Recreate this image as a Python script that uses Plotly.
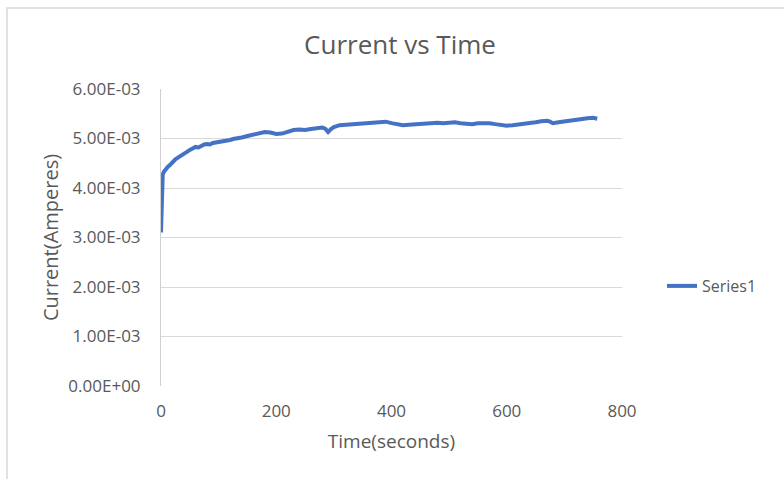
import plotly.graph_objects as go

time_s = [0, 1, 2, 3, 5, 8, 12, 16, 20, 25, 30, 35, 40, 45, 50, 55, 60, 65, 70, 75, 80, 85, 90,
          95, 100, 105, 110, 115, 120, 125, 130, 135, 140, 150, 160, 170, 180, 190, 200, 210,
          220, 230, 240, 250, 260, 270, 280, 285, 290, 295, 300, 310, 320, 330, 340, 350, 360,
          370, 380, 390, 400, 410, 420, 430, 440, 450, 460, 470, 480, 490, 500, 510, 520,
          530, 540, 550, 560, 570, 580, 590, 600, 610, 620, 630, 640, 650, 660, 670,
          675, 680, 690, 700, 710, 720, 730, 740, 750, 757]
current_mA = [3.10, 4.00, 4.20, 4.27, 4.33, 4.38, 4.43, 4.47, 4.53, 4.58, 4.62, 4.65, 4.70,
              4.73, 4.77, 4.81, 4.83, 4.82, 4.86, 4.88, 4.89, 4.88, 4.91, 4.92, 4.92, 4.94,
              4.95, 4.94, 4.97, 4.99, 5.00, 4.99, 5.02, 5.05, 5.07, 5.10, 5.13, 5.12, 5.09,
              5.10, 5.14, 5.17, 5.18, 5.17, 5.19, 5.21, 5.22, 5.20, 5.13, 5.19, 5.23, 5.27,
              5.28, 5.29, 5.30, 5.29, 5.31, 5.32, 5.33, 5.34, 5.31, 5.28, 5.27, 5.28, 5.29,
              5.30, 5.31, 5.32, 5.32, 5.31, 5.32, 5.33, 5.31, 5.29, 5.29, 5.31, 5.32, 5.31,
              5.29, 5.27, 5.26, 5.27, 5.29, 5.31, 5.32, 5.33, 5.35, 5.36, 5.34, 5.31, 5.33,
              5.35, 5.36, 5.37, 5.39, 5.41, 5.42, 5.40]
current_A = [v * 1e-3 for v in current_mA]

y_tick_vals = [0, 0.001, 0.002, 0.003, 0.004, 0.005, 0.006]
y_tick_text = ["0.00E+00", "1.00E-03", "2.00E-03", "3.00E-03", "4.00E-03", "5.00E-03", "6.00E-03"]
x_tick_vals = [0, 200, 400, 600, 800]

FONT = "Open Sans"
GRAY = "#595959"

fig = go.Figure()
fig.add_trace(go.Scatter(
    x=time_s, y=current_A, mode="lines", name="Series1",
    line=dict(color="#4472C4", width=4),
))

L, R, T, B = 161, 162, 89, 93
W, H = 784, 479
pw, ph = W - L - R, H - T - B

fig.update_layout(
    width=W, height=H,
    margin=dict(l=L, r=R, t=T, b=B),
    paper_bgcolor="white", plot_bgcolor="white",
    font=dict(family=FONT, color=GRAY, size=16),
    title=dict(text="Current vs Time", x=(400 - L) / pw, xref="paper", xanchor="center",
               y=1 - 45 / H, yanchor="middle",
               font=dict(size=26, color=GRAY, family=FONT)),
    showlegend=True,
    legend=dict(x=(662 - L) / pw, y=(386 - 286) / ph, xanchor="left", yanchor="middle",
                font=dict(size=16, color=GRAY, family=FONT), bgcolor="rgba(0,0,0,0)",
                itemwidth=30),
    xaxis=dict(range=[0, 800], tickvals=x_tick_vals, showgrid=False, zeroline=False,
               showline=False, ticks="", ticklabelstandoff=13,
               tickfont=dict(size=17, color=GRAY),
               title=dict(text="Time(seconds)", font=dict(size=19, color=GRAY), standoff=13)),
    yaxis=dict(range=[0, 0.006], tickvals=y_tick_vals, ticktext=y_tick_text,
               showgrid=True, gridcolor="#D9D9D9", gridwidth=1, zeroline=False,
               showline=True, linecolor="#D0D0D0", linewidth=1, ticks="",
               ticklabelstandoff=16,
               tickfont=dict(size=17, color=GRAY),
               title=dict(text="Current(Amperes)", font=dict(size=20, color=GRAY), standoff=4)),
    shapes=[dict(type="rect", xref="paper", yref="paper",
                 x0=(7 - L) / pw, x1=(W + 20 - L) / pw,
                 y0=-(B + 20) / ph, y1=1 + (T - 8) / ph,
                 line=dict(color="#D9D9D9", width=1.5), fillcolor="rgba(0,0,0,0)",
                 layer="below")],
)

fig.write_html("out.html")
